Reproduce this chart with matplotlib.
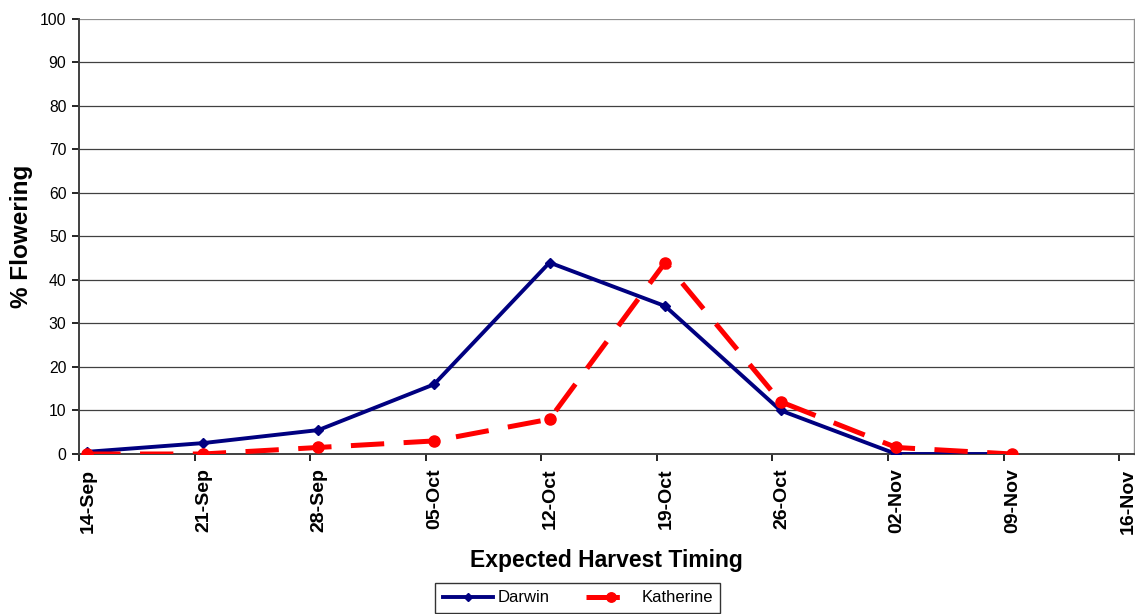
import matplotlib
matplotlib.use("Agg")
import matplotlib.pyplot as plt
import numpy as np

plt.rcParams['font.family'] = ['Liberation Sans', 'DejaVu Sans']
plt.rcParams['lines.scale_dashes'] = False

tick_labels = ['14-Sep', '21-Sep', '28-Sep', '05-Oct', '12-Oct', '19-Oct',
               '26-Oct', '02-Nov', '09-Nov', '16-Nov']
point_days = [0.5, 7.5, 14.5, 21.5, 28.5, 35.5, 42.5, 49.5, 56.5]
darwin = [0.5, 2.5, 5.5, 16, 44, 34, 10, 0, 0]
katherine = [0, 0, 1.5, 3, 8, 44, 12, 1.5, 0]

fig = plt.figure(figsize=(11.35, 6.14), dpi=100)
ax = fig.add_axes([0.0696, 0.2606, 0.9295, 0.7085])

ax.plot(point_days, darwin, color='#000080', lw=2.8, marker='D', ms=5,
        label='Darwin', zorder=3)
ax.plot(point_days, katherine, color='#FF0000', lw=3.6, marker='o', ms=8,
        dashes=(24, 14), label='Katherine', zorder=4)

ax.set_xlim(0, 63.9)
ax.set_ylim(0, 100)
ax.set_xticks(np.arange(len(tick_labels)) * 7)
ax.set_xticklabels([])
ax.set_xticks(np.arange(len(tick_labels)) * 7 + 0.55, minor=True)
ax.set_xticklabels(tick_labels, minor=True, rotation=90, fontsize=14,
                   fontweight='bold')
ax.tick_params(axis='x', which='minor', length=0, pad=10.5)
ax.set_yticks(np.arange(0, 101, 10))
ax.tick_params(axis='y', labelsize=11.3, length=5, direction='out', width=1.2, pad=4)
ax.tick_params(axis='x', which='major', length=5, direction='out', width=1.2)
for y in range(10, 101, 10):
    ax.axhline(y, color='#404040' if y < 100 else '#909090', lw=0.9, zorder=1)

ax.spines['top'].set_visible(False)
ax.spines['right'].set_color('#909090')
ax.spines['right'].set_linewidth(1.0)
ax.spines['left'].set_color('#404040')
ax.spines['left'].set_linewidth(1.4)
ax.spines['bottom'].set_color('#404040')
ax.spines['bottom'].set_linewidth(1.4)

ax.set_ylabel('% Flowering', fontsize=17.5, fontweight='bold')
ax.yaxis.set_label_coords(21 / 1135 / 0.9295 - 0.0696 / 0.9295, 0.5,
                          transform=ax.transAxes)
ax.set_xlabel('Expected Harvest Timing', fontsize=16.5, fontweight='bold')
ax.xaxis.set_label_coords(0.5, -(561 - 454) / 435.0)
ax.xaxis.label.set_va('center')
ax.yaxis.label.set_va('center')

leg = fig.legend(loc='upper center', bbox_to_anchor=(0.509, 0.0505), ncol=2,
                 frameon=True, fancybox=False, edgecolor='black', fontsize=12,
                 handlelength=3.0, handletextpad=0.3, columnspacing=2.2,
                 borderpad=0.45, borderaxespad=0, markerscale=0.85)
leg.get_frame().set_linewidth(1.0)

fig.savefig('out.png', dpi=100)
